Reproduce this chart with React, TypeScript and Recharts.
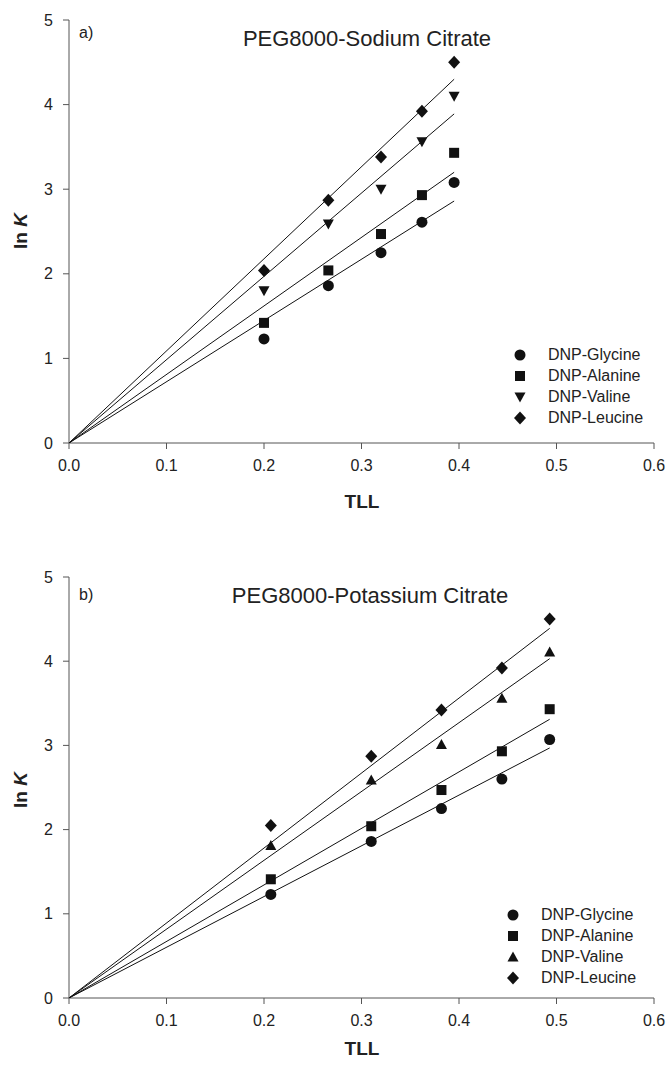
import { ScatterChart, Scatter, XAxis, YAxis, Legend } from "recharts";

// amino acid derivatives (same order in both panels)
const solutes = ["DNP-Glycine", "DNP-Alanine", "DNP-Valine", "DNP-Leucine"];

// panel a) PEG8000 - sodium citrate
const tllSodium = [0.2, 0.266, 0.32, 0.362, 0.395];
const glycineSodium = [1.23, 1.86, 2.25, 2.61, 3.08];
const alanineSodium = [1.42, 2.04, 2.47, 2.93, 3.43];
const valineSodium = [1.8, 2.59, 3.0, 3.56, 4.1];
const leucineSodium = [2.04, 2.87, 3.38, 3.92, 4.5];
const fitEndSodium = [2.86, 3.2, 3.89, 4.3];

// panel b) PEG8000 - potassium citrate
const tllPotassium = [0.207, 0.31, 0.382, 0.444, 0.493];
const glycinePotassium = [1.23, 1.86, 2.25, 2.6, 3.07];
const alaninePotassium = [1.41, 2.04, 2.47, 2.93, 3.43];
const valinePotassium = [1.81, 2.59, 3.01, 3.56, 4.11];
const leucinePotassium = [2.05, 2.87, 3.42, 3.92, 4.5];
const fitEndPotassium = [2.97, 3.31, 4.03, 4.39];

const xTicks = [0, 0.1, 0.2, 0.3, 0.4, 0.5, 0.6];
const yTicks = [0, 1, 2, 3, 4, 5];

const FONT = '"Liberation Sans", Arial, Helvetica, sans-serif';
const INK = "#111";
const AXIS = "#555";
const TEXT = "#222";

type Kind = "circle" | "square" | "triDown" | "triUp" | "diamond";

function Mark({ cx, cy, kind }: { cx: number; cy: number; kind: Kind }) {
  if (cx == null || cy == null) return <g />;
  switch (kind) {
    case "circle":
      return <circle cx={cx} cy={cy} r={5.5} fill={INK} />;
    case "square":
      return <rect x={cx - 5} y={cy - 5} width={10} height={10} fill={INK} />;
    case "triDown":
      return <path d={`M${cx - 5.5},${cy - 4.5}L${cx + 5.5},${cy - 4.5}L${cx},${cy + 5.5}Z`} fill={INK} />;
    case "triUp":
      return <path d={`M${cx - 5.5},${cy + 4.5}L${cx + 5.5},${cy + 4.5}L${cx},${cy - 5.5}Z`} fill={INK} />;
    default:
      return <path d={`M${cx},${cy - 6.5}L${cx + 6},${cy}L${cx},${cy + 6.5}L${cx - 6},${cy}Z`} fill={INK} />;
  }
}

type PanelProps = {
  tag: string;
  title: string;
  tll: number[];
  values: number[][];
  kinds: Kind[];
  fitEnd: number[];
  height: number;
  top: number;
  bottom: number;
  tagY: number;
  titleX: number;
  titleY: number;
  lnKY: number;
  tllY: number;
  legendX: number;
  legendY: number;
};

function Panel(p: PanelProps) {
  const lastX = p.tll[p.tll.length - 1];

  // only the measured series go in the key, in the original order
  const renderLegend = (props: any) => {
    const shown = (props.payload || []).map((e: any) => e.value);
    return (
      <div style={{ fontFamily: FONT, fontSize: 16, color: TEXT }}>
        {solutes.map((s, i) =>
          shown.includes(s) ? (
            <div key={s} style={{ display: "flex", alignItems: "center", height: 21 }}>
              <svg width={16} height={16} style={{ marginRight: 20 }}>
                <Mark cx={8} cy={8} kind={p.kinds[i]} />
              </svg>
              <span>{s}</span>
            </div>
          ) : null
        )}
      </div>
    );
  };

  return (
    <ScatterChart
      width={667}
      height={p.height}
      margin={{ top: p.top, right: 13, left: 29, bottom: p.bottom }}
      style={{ fontFamily: FONT }}
    >
      <XAxis
        type="number"
        dataKey="x"
        domain={[0, 0.6]}
        ticks={xTicks}
        tickFormatter={(v: number) => v.toFixed(1)}
        height={60}
        tickSize={6}
        tickMargin={11}
        stroke={AXIS}
        tick={{ fill: TEXT, fontSize: 16 }}
        allowDataOverflow
      />
      <YAxis
        type="number"
        dataKey="y"
        domain={[0, 5]}
        ticks={yTicks}
        width={40}
        tickSize={6}
        tickMargin={10}
        stroke={AXIS}
        tick={{ fill: TEXT, fontSize: 16 }}
        allowDataOverflow
      />
      <XAxis xAxisId="frameTop" orientation="top" type="number" domain={[0, 0.6]} height={0} tick={false} tickLine={false} stroke={AXIS} />
      <YAxis yAxisId="frameRight" orientation="right" type="number" domain={[0, 5]} width={0} tick={false} tickLine={false} stroke={AXIS} />

      {p.values.map((vals, i) => (
        <Scatter
          key={"fit" + i}
          name={"fit " + solutes[i]}
          data={[
            { x: 0, y: 0 },
            { x: lastX, y: p.fitEnd[i] },
          ]}
          line={{ stroke: INK, strokeWidth: 1 }}
          shape={() => <g />}
          legendType="none"
          isAnimationActive={false}
        />
      ))}
      {p.values.map((vals, i) => (
        <Scatter
          key={solutes[i]}
          name={solutes[i]}
          data={p.tll.map((x, j) => ({ x, y: vals[j] }))}
          shape={(s: any) => <Mark cx={s.cx} cy={s.cy} kind={p.kinds[i]} />}
          isAnimationActive={false}
        />
      ))}

      <Legend
        layout="vertical"
        align="center"
        verticalAlign="middle"
        content={renderLegend}
        wrapperStyle={{ position: "absolute", left: p.legendX, top: p.legendY, width: 140, height: 90 }}
      />

      <text x={79} y={p.tagY} fontSize={16} fill={TEXT} fontFamily={FONT}>
        {p.tag}
      </text>
      <text x={p.titleX} y={p.titleY} fontSize={22} fill={TEXT} textAnchor="middle" fontFamily={FONT}>
        {p.title}
      </text>
      <text
        x={20}
        y={p.lnKY}
        transform={`rotate(-90 20 ${p.lnKY})`}
        fontSize={19}
        fontWeight="bold"
        fill={TEXT}
        textAnchor="middle"
        dominantBaseline="central"
        fontFamily={FONT}
      >
        ln <tspan fontStyle="italic">K</tspan>
      </text>
      <text x={362} y={p.tllY} fontSize={19} fontWeight="bold" fill={TEXT} textAnchor="middle" fontFamily={FONT}>
        TLL
      </text>
    </ScatterChart>
  );
}

export default function App() {
  return (
    <div style={{ position: "absolute", left: 0, top: 0, width: 667, height: 1066, background: "#fff" }}>
      <Panel
        tag="a)"
        title="PEG8000-Sodium Citrate"
        tll={tllSodium}
        values={[glycineSodium, alanineSodium, valineSodium, leucineSodium]}
        kinds={["circle", "square", "triDown", "diamond"]}
        fitEnd={fitEndSodium}
        height={530}
        top={20}
        bottom={27}
        tagY={38}
        titleX={367}
        titleY={46}
        lnKY={231}
        tllY={508}
        legendX={512}
        legendY={344}
      />
      <Panel
        tag="b)"
        title="PEG8000-Potassium Citrate"
        tll={tllPotassium}
        values={[glycinePotassium, alaninePotassium, valinePotassium, leucinePotassium]}
        kinds={["circle", "square", "triUp", "diamond"]}
        fitEnd={fitEndPotassium}
        height={536}
        top={47}
        bottom={8}
        tagY={70}
        titleX={370}
        titleY={73}
        lnKY={260}
        tllY={525}
        legendX={505}
        legendY={374}
      />
    </div>
  );
}
